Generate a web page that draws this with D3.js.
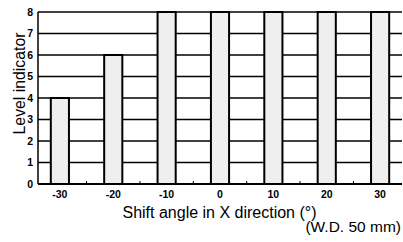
<!DOCTYPE html>
<html><head><meta charset="utf-8">
<script src="https://cdn.jsdelivr.net/npm/d3@7"></script>
<style>body{margin:0;background:#fff}svg{display:block}</style>
</head><body>
<svg id="c" width="403" height="242"></svg>
<script>
const angles = [-30, -20, -10, 0, 10, 20, 30];
const levels = [4, 6, 8, 8, 8, 8, 8];
const yTicks = [0, 1, 2, 3, 4, 5, 6, 7, 8];
const minorTicks = [-25, -15, -5, 5, 15, 25];
const xLabel = "Shift angle in X direction (°)";
const yLabel = "Level indicator";
const note = "(W.D. 50 mm)";

const svg = d3.select("#c");
const L = 38, R = 402, T = 12, B = 184;
const x = d3.scaleLinear().domain([-34.1, 34.1]).range([L, R]);
const y = d3.scaleLinear().domain([0, 8]).range([B, T]);
const barW = 3.4;
const font = "Liberation Sans, Arial, Helvetica, sans-serif";

svg.append("g").selectAll("line").data(yTicks.filter(d => d > 0)).join("line")
  .attr("x1", L).attr("x2", R).attr("y1", d => y(d)).attr("y2", d => y(d))
  .attr("stroke", "#000").attr("stroke-width", 1.5);

svg.append("g").selectAll("rect").data(angles).join("rect")
  .attr("x", d => x(d - barW / 2))
  .attr("width", d => x(barW) - x(0))
  .attr("y", (d, i) => y(levels[i]))
  .attr("height", (d, i) => y(0) - y(levels[i]))
  .attr("fill", "#efefef").attr("stroke", "#000").attr("stroke-width", 2);

svg.append("line").attr("x1", L).attr("x2", L).attr("y1", T).attr("y2", B).attr("stroke", "#000").attr("stroke-width", 1.5);
svg.append("line").attr("x1", L).attr("x2", R).attr("y1", B).attr("y2", B).attr("stroke", "#000").attr("stroke-width", 2);

svg.append("g").selectAll("line").data(minorTicks).join("line")
  .attr("x1", d => x(d)).attr("x2", d => x(d)).attr("y1", B).attr("y2", B - 3)
  .attr("stroke", "#000").attr("stroke-width", 1);

svg.append("g").selectAll("text").data(yTicks).join("text")
  .attr("x", 33).attr("y", d => y(d) + 3.8)
  .attr("text-anchor", "end").attr("font-family", font)
  .attr("font-size", 10.5).attr("font-weight", "bold").text(d => d);

svg.append("g").selectAll("text").data(angles).join("text")
  .attr("x", d => x(d)).attr("y", 198)
  .attr("text-anchor", "middle").attr("font-family", font)
  .attr("font-size", 10.5).attr("font-weight", "bold").text(d => d);

svg.append("text").attr("x", 219.5).attr("y", 218).attr("text-anchor", "middle")
  .attr("font-family", font).attr("font-size", 16).text(xLabel);
svg.append("text").attr("x", 401).attr("y", 232).attr("text-anchor", "end")
  .attr("font-family", font).attr("font-size", 15.5).text(note);
svg.append("text").attr("transform", "translate(25,83.5) rotate(-90)").attr("text-anchor", "middle")
  .attr("font-family", font).attr("font-size", 15.8).text(yLabel);
</script>
</body></html>
